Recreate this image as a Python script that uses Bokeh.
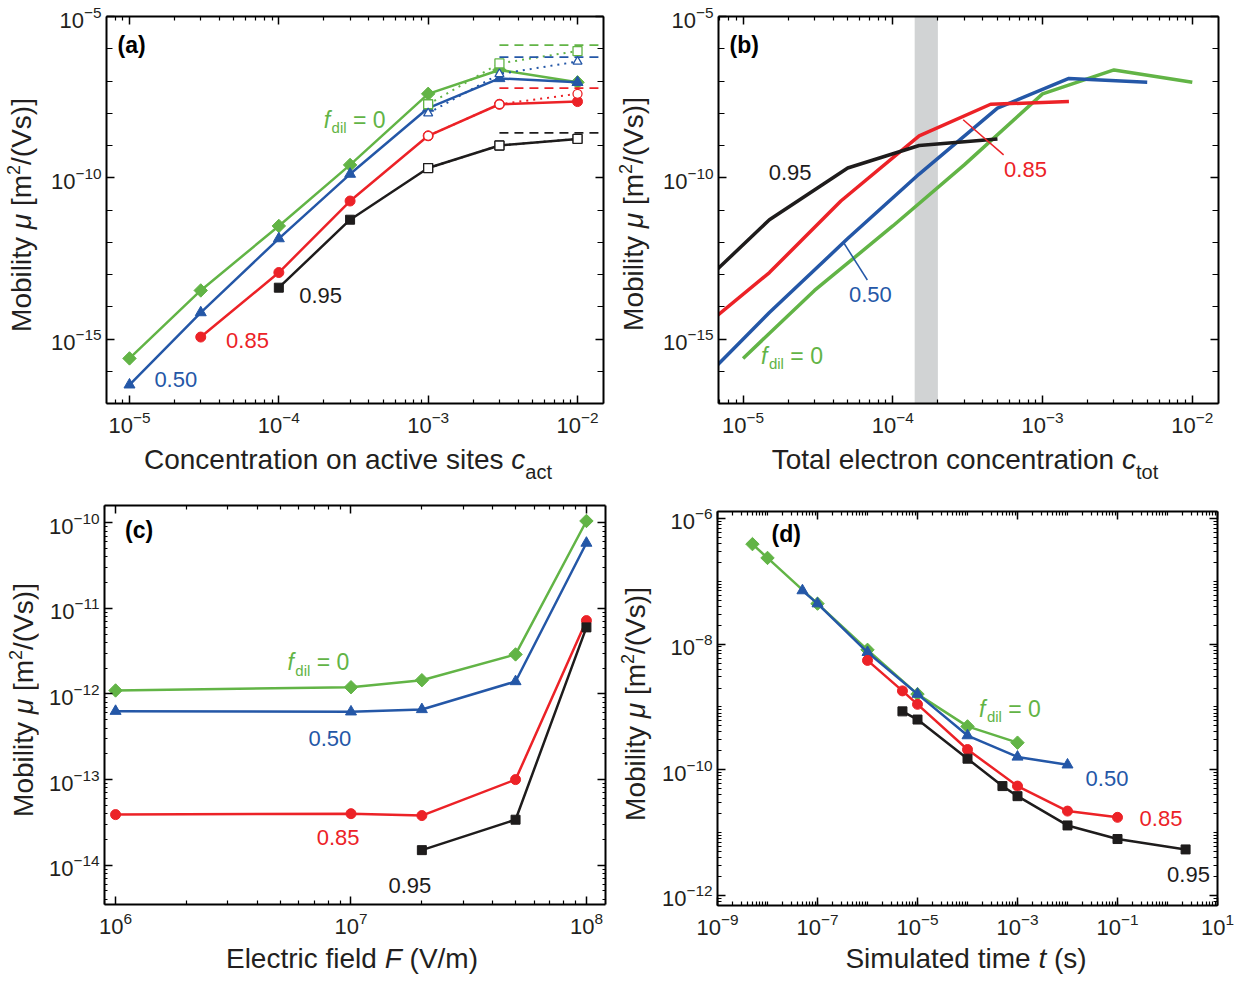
import math
from bokeh.plotting import figure
from bokeh.models import (FixedTicker, LogAxis, Label, BoxAnnotation, Range1d,
                          CustomJSTickFormatter, Div)
from bokeh.layouts import column, row
from bokeh.embed import file_html
from bokeh.resources import INLINE

FONT = "Liberation Sans"
GREEN = "#62b446"
BLUE = "#2457a7"
RED = "#ec2227"
BLACK = "#1e1c1c"
TXT = "#231f20"

# ---------------- data ----------------
f_dil = [0.0, 0.50, 0.85, 0.95]

# (a) mobility vs concentration on active sites
c_act_f000 = [1e-5, 3e-5, 1e-4, 3e-4, 1e-3, 3e-3, 1e-2]
mu_act_f000 = [2.5e-16, 3.2e-14, 3.2e-12, 2.5e-10, 4.0e-8, 2.2e-7, 9.1e-8]
c_act_f050 = [1e-5, 3e-5, 1e-4, 3e-4, 1e-3, 3e-3, 1e-2]
mu_act_f050 = [3.8e-17, 6.6e-15, 1.3e-12, 1.3e-10, 1.45e-8, 1.2e-7, 9.1e-8]
c_act_f085 = [3e-5, 1e-4, 3e-4, 1e-3, 3e-3, 1e-2]
mu_act_f085 = [1.15e-15, 1.15e-13, 1.9e-11, 2.0e-9, 1.9e-8, 2.3e-8]
c_act_f095 = [1e-4, 3e-4, 1e-3, 3e-3, 1e-2]
mu_act_f095 = [3.9e-14, 5.0e-12, 2.0e-10, 1.0e-9, 1.6e-9]

# (a) open symbols (dotted) and limiting values (dashed)
c_act_open = [1e-3, 3e-3, 1e-2]
mu_open_f000 = [1.9e-8, 3.5e-7, 8.5e-7]
mu_open_f050 = [1.0e-8, 1.65e-7, 4.0e-7]
mu_open_f085 = [2.0e-9, 1.9e-8, 4.0e-8]
mu_open_f095 = [2.0e-10, 1.0e-9, 1.6e-9]
c_limit_start = 3e-3
mu_limit = [1.3e-6, 5.5e-7, 6.0e-8, 2.45e-9]   # f_dil = 0, 0.50, 0.85, 0.95

# (b) shaded band of total electron concentration
band_c_tot = [1.4e-4, 2.0e-4]

# (c) mobility vs electric field
F_all = [1e6, 1e7, 2e7, 5e7, 1e8]
mu_F_f000 = [1.1e-12, 1.2e-12, 1.45e-12, 2.9e-12, 1.05e-10]
mu_F_f050 = [6.3e-13, 6.2e-13, 6.6e-13, 1.4e-12, 5.8e-11]
mu_F_f085 = [3.9e-14, 4.0e-14, 3.8e-14, 1.0e-13, 7.2e-12]
F_f095 = [2e7, 5e7, 1e8]
mu_F_f095 = [1.5e-14, 3.4e-14, 6.0e-12]

# (d) mobility vs simulated time
t_f000 = [5e-9, 1e-8, 1e-7, 1e-6, 1e-5, 1e-4, 1e-3]
mu_t_f000 = [3.9e-7, 2.35e-7, 4.4e-8, 8.1e-9, 1.6e-9, 4.9e-10, 2.7e-10]
t_f050 = [5e-8, 1e-7, 1e-6, 1e-5, 1e-4, 1e-3, 1e-2]
mu_t_f050 = [7.1e-8, 4.4e-8, 7.4e-9, 1.6e-9, 3.5e-10, 1.6e-10, 1.2e-10]
t_f085 = [1e-6, 5e-6, 1e-5, 1e-4, 1e-3, 1e-2, 1e-1]
mu_t_f085 = [5.5e-9, 1.8e-9, 1.1e-9, 2.1e-10, 5.5e-11, 2.2e-11, 1.75e-11]
t_f095 = [5e-6, 1e-5, 1e-4, 5e-4, 1e-3, 1e-2, 1e-1, 2.3]
mu_t_f095 = [8.5e-10, 6.3e-10, 1.5e-10, 5.5e-11, 3.8e-11, 1.3e-11, 7.9e-12, 5.4e-12]

# ---------------- helpers ----------------
ARIAL = {' ': 278, '=': 584, '.': 278, 'd': 556, 'f': 278, 'i': 222, 'l': 222}


def tw(s, size):
    return sum(ARIAL.get(ch, 556) for ch in s) * size / 1000.0


def decades(lo, hi):
    return [10.0 ** k for k in range(lo, hi + 1)]


def subdecades(lo, hi):
    return [m * 10.0 ** k for k in range(lo, hi + 1) for m in range(2, 10)]


def make_fig(xr, yr, w, h, bl, br, bt, bb):
    p = figure(width=w, height=h, x_axis_type="log", y_axis_type="log",
               x_range=Range1d(*xr), y_range=Range1d(*yr),
               output_backend="svg", toolbar_location=None,
               min_border_left=bl, min_border_right=br,
               min_border_top=bt, min_border_bottom=bb)
    p.grid.visible = False
    p.outline_line_color = None
    p.background_fill_color = "white"
    p.border_fill_color = "white"
    return p


def style_axes(p, xt, yt, ymin_len=4):
    bottom = p.below[0]
    left = p.left[0]
    bottom.ticker = xt
    left.ticker = yt
    top = LogAxis(ticker=xt, formatter=CustomJSTickFormatter(code="return ''"))
    right = LogAxis(ticker=yt, formatter=CustomJSTickFormatter(code="return ''"))
    p.add_layout(top, "above")
    p.add_layout(right, "right")
    for ax in (bottom, left, top, right):
        ax.axis_line_width = 2
        ax.axis_line_color = "black"
        ax.major_tick_in = 8
        ax.major_tick_out = 0
        ax.minor_tick_out = 0
        ax.major_tick_line_width = 1.5
        ax.minor_tick_line_width = 1.2
        ax.major_tick_line_color = "black"
        ax.minor_tick_line_color = "black"
        ax.major_label_text_font = FONT
        ax.major_label_text_font_size = "22px"
        ax.major_label_text_color = TXT
    for ax in (bottom, top):
        ax.minor_tick_in = 4
    for ax in (left, right):
        ax.minor_tick_in = ymin_len
    bottom.major_label_standoff = 7
    left.major_label_standoff = 5
    top.major_label_standoff = 0
    right.major_label_standoff = 0


def put(p, x, y, text, color, size=22, style="normal", xo=0, yo=0,
        align="left", baseline="middle"):
    p.add_layout(Label(x=x, y=y, text=text, x_offset=xo, y_offset=yo,
                       text_color=color, text_font=FONT,
                       text_font_size=f"{size}px", text_font_style=style,
                       text_align=align, text_baseline=baseline))


def fdil_label(p, x, y, color):
    put(p, x, y, "f", color, size=23, style="italic")
    put(p, x, y, "dil", color, size=15, xo=tw("f", 23) + 1.5, yo=-8)
    put(p, x, y, "= 0", color, size=23,
        xo=tw("f", 23) + 1.5 + tw("dil", 15) + tw(" ", 23))


AXFONT = 28
BASE = (f"position:absolute;white-space:nowrap;font-family:'{FONT}';"
        f"font-size:{AXFONT}px;line-height:{AXFONT}px;color:{TXT};")


def xdiv(width, height, cx, top, inner):
    html = (f'<div style="position:relative;width:{width}px;height:{height}px;">'
            f'<div style="{BASE}left:{cx}px;top:{top}px;transform:translateX(-50%);">'
            f'{inner}</div></div>')
    return Div(text=html, width=width, height=height, margin=0)


def ydiv(width, height, cx, cy):
    inner = ('Mobility <i>μ</i> [m<span style="font-size:18px;line-height:0;'
             'vertical-align:11px;">2</span>/(Vs)]')
    html = (f'<div style="position:relative;width:{width}px;height:{height}px;">'
            f'<div style="{BASE}left:{cx}px;top:{cy}px;'
            f'transform:translate(-50%,-50%) rotate(-90deg);">{inner}</div></div>')
    return Div(text=html, width=width, height=height, margin=0)


SUB = '<span style="font-size:20px;line-height:0;vertical-align:-10px;">{}</span>'


def series(p, x, y, color, marker, size, lw=2.5, angle=0.0):
    p.line(x, y, line_color=color, line_width=lw)
    p.scatter(x, y, marker=marker, size=size, fill_color=color, line_color=color,
              angle=angle)


DIAMOND = dict(marker="square", size=9.5, angle=math.pi / 4)

# ---------------- panel (a) ----------------
pa = make_fig((10 ** -5.154, 10 ** -1.826), (1e-17, 1e-5), 577, 440, 68, 12, 16, 37)
style_axes(pa, FixedTicker(ticks=decades(-5, -2), minor_ticks=subdecades(-6, -2)),
           FixedTicker(ticks=[1e-15, 1e-10, 1e-5], minor_ticks=decades(-17, -5)), ymin_len=6)

series(pa, c_act_f000, mu_act_f000, GREEN, **DIAMOND)
series(pa, c_act_f050, mu_act_f050, BLUE, "triangle", 11)
series(pa, c_act_f085, mu_act_f085, RED, "circle", 10)
series(pa, c_act_f095, mu_act_f095, BLACK, "square", 9)

open_sets = [(mu_open_f000, GREEN, "square"), (mu_open_f050, BLUE, "triangle"),
             (mu_open_f085, RED, "circle"), (mu_open_f095, BLACK, "square")]
for (mu_o, col, mk), lim in zip(open_sets, mu_limit):
    pa.line(c_act_open, mu_o, line_color=col, line_width=2, line_dash="2 5")
    pa.line([c_limit_start, pa.x_range.end], [lim, lim], line_color=col,
            line_width=1.8, line_dash="9 6")
    pa.scatter(c_act_open, mu_o, marker=mk, size=9, fill_color="white",
               line_color=col, line_width=1.3)

put(pa, 10 ** -5.08, 10 ** -5.89, "(a)", "black", size=23, style="bold")
fdil_label(pa, 10 ** -3.70, 10 ** -8.2, GREEN)
put(pa, 10 ** -4.69, 10 ** -16.26, "0.50", BLUE, align="center")
put(pa, 10 ** -4.21, 10 ** -15.06, "0.85", RED, align="center")
put(pa, 10 ** -3.72, 10 ** -13.65, "0.95", BLACK, align="center")

xa = xdiv(577, 50, 310, 6, "Concentration on active sites <i>c</i>" + SUB.format("act"))
ya = ydiv(38, 440, 22, 215)

# ---------------- panel (b) ----------------
pb = make_fig((10 ** -5.164, 10 ** -1.825), (1e-17, 1e-5), 582, 440, 63, 19, 16, 37)
style_axes(pb, FixedTicker(ticks=decades(-5, -2), minor_ticks=subdecades(-6, -2)),
           FixedTicker(ticks=[1e-15, 1e-10, 1e-5], minor_ticks=decades(-17, -5)), ymin_len=6)
pb.add_layout(BoxAnnotation(left=band_c_tot[0], right=band_c_tot[1],
                            fill_color="#d1d3d4", fill_alpha=1.0, line_color=None,
                            level="underlay"))
for cs, ms, fd, col in [(c_act_f000, mu_act_f000, f_dil[0], GREEN),
                        (c_act_f050, mu_act_f050, f_dil[1], BLUE),
                        (c_act_f085, mu_act_f085, f_dil[2], RED),
                        (c_act_f095, mu_act_f095, f_dil[3], BLACK)]:
    pb.line([c * (1.0 - fd) for c in cs], ms, line_color=col, line_width=3.5)

pb.segment(x0=[10 ** -3.53], y0=[10 ** -8.2], x1=[10 ** -3.26], y1=[10 ** -9.29],
           line_color=RED, line_width=1.5)
pb.segment(x0=[10 ** -4.33], y0=[10 ** -12.0], x1=[10 ** -4.17], y1=[10 ** -13.17],
           line_color=BLUE, line_width=1.5)
put(pb, 10 ** -5.09, 10 ** -5.89, "(b)", "black", size=23, style="bold")
put(pb, 10 ** -4.686, 10 ** -9.83, "0.95", BLACK, align="center")
put(pb, 10 ** -3.114, 10 ** -9.74, "0.85", RED, align="center")
put(pb, 10 ** -4.15, 10 ** -13.62, "0.50", BLUE, align="center")
fdil_label(pb, 10 ** -4.88, 10 ** -15.52, GREEN)

xb = xdiv(582, 50, 310, 6, "Total electron concentration <i>c</i>" + SUB.format("tot"))
yb = ydiv(40, 440, 19, 214)

# ---------------- panel (c) ----------------
pc = make_fig((10 ** 5.953, 10 ** 8.081), (10 ** -14.459, 10 ** -9.798), 577, 450, 66, 10, 15, 36)
style_axes(pc, FixedTicker(ticks=decades(6, 8), minor_ticks=subdecades(5, 8)),
           FixedTicker(ticks=decades(-14, -10), minor_ticks=subdecades(-15, -10)),
           ymin_len=3)
series(pc, F_all, mu_F_f000, GREEN, **DIAMOND)
series(pc, F_all, mu_F_f050, BLUE, "triangle", 11)
series(pc, F_all, mu_F_f085, RED, "circle", 10)
series(pc, F_f095, mu_F_f095, BLACK, "square", 9)
put(pc, 10 ** 6.04, 10 ** -10.09, "(c)", "black", size=23, style="bold")
fdil_label(pc, 10 ** 6.73, 10 ** -11.63, GREEN)
put(pc, 10 ** 6.91, 10 ** -12.52, "0.50", BLUE, align="center")
put(pc, 10 ** 6.945, 10 ** -13.68, "0.85", RED, align="center")
put(pc, 10 ** 7.25, 10 ** -14.24, "0.95", BLACK, align="center")

xc = xdiv(577, 44, 314, 5, "Electric field <i>F</i> (V/m)")
yc = ydiv(38, 450, 24, 210)

# ---------------- panel (d) ----------------
pd = make_fig((1e-9, 1e1), (10 ** -12.16, 10 ** -5.89), 582, 450, 62, 20, 21, 35)
style_axes(pd, FixedTicker(ticks=[1e-9, 1e-7, 1e-5, 1e-3, 1e-1, 1e1],
                           minor_ticks=decades(-9, 1) + subdecades(-9, 0)),
           FixedTicker(ticks=[1e-12, 1e-10, 1e-8, 1e-6],
                       minor_ticks=decades(-12, -6) + subdecades(-13, -6)),
           ymin_len=4)
series(pd, t_f000, mu_t_f000, GREEN, **DIAMOND)
series(pd, t_f050, mu_t_f050, BLUE, "triangle", 11)
series(pd, t_f085, mu_t_f085, RED, "circle", 10)
series(pd, t_f095, mu_t_f095, BLACK, "square", 9)
put(pd, 10 ** -7.92, 10 ** -6.25, "(d)", "black", size=23, style="bold")
fdil_label(pd, 10 ** -3.77, 10 ** -9.03, GREEN)
put(pd, 10 ** -1.21, 10 ** -10.14, "0.50", BLUE, align="center")
put(pd, 10 ** -0.13, 10 ** -10.78, "0.85", RED, align="center")
put(pd, 10 ** 0.42, 10 ** -11.66, "0.95", BLACK, align="center")

xd = xdiv(582, 44, 311, 5, "Simulated time <i>t</i> (s)")
yd = ydiv(40, 450, 21, 214)

layout = column(
    row(ya, column(pa, xa), yb, column(pb, xb)),
    row(yc, column(pc, xc), yd, column(pd, xd)),
)
open("out.html", "w").write(file_html(layout, INLINE))
